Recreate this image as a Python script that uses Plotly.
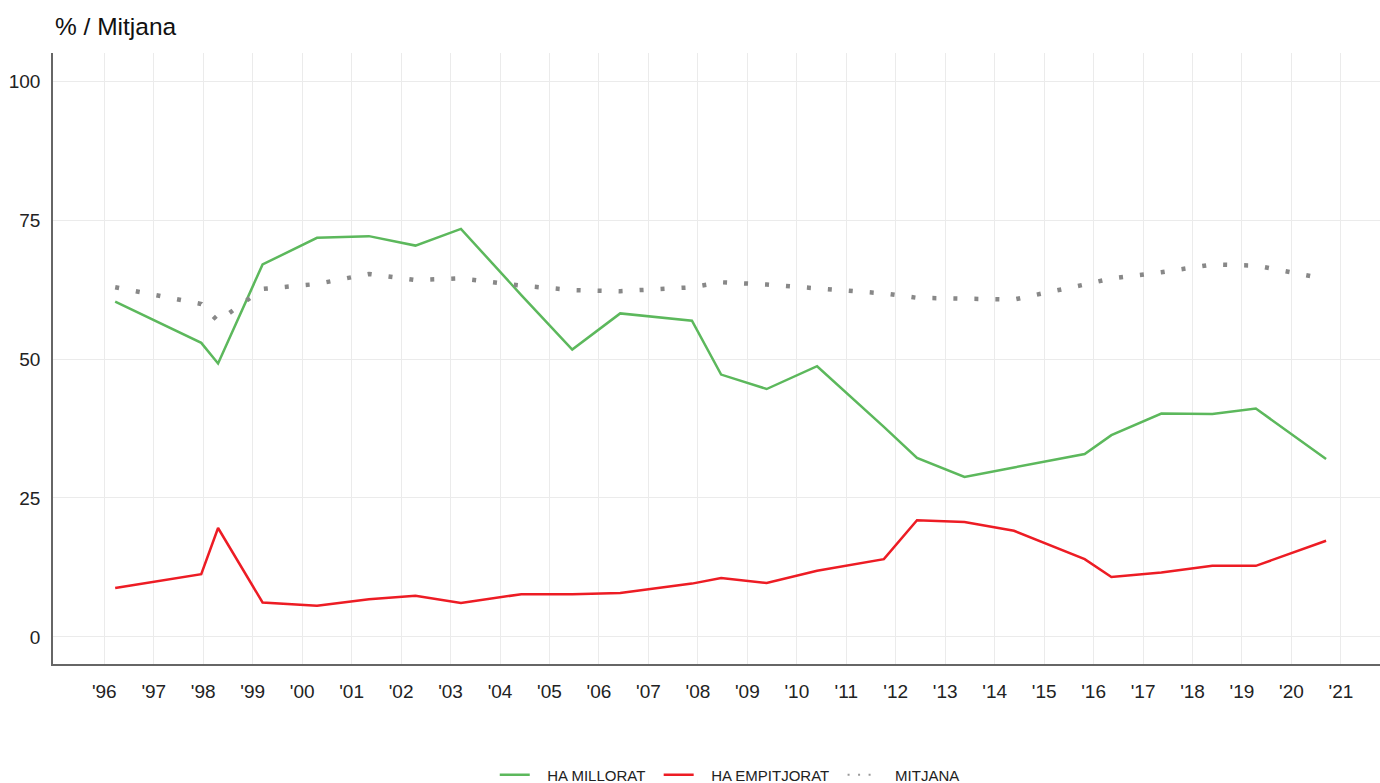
import plotly.graph_objects as go

# Survey dates (decimal years) and percentages for each series
dates = [1996.22, 1997.96, 1998.30, 1999.20, 2000.30, 2001.35, 2002.29, 2003.21,
         2004.43, 2005.46, 2006.43, 2007.88, 2008.47, 2009.39, 2010.41, 2011.76,
         2012.43, 2013.39, 2014.39, 2015.82, 2016.36, 2017.37, 2018.40, 2019.28,
         2020.70]

ha_millorat = [60.3, 52.9, 49.2, 67.0, 71.8, 72.1, 70.4, 73.4,
               61.5, 51.7, 58.2, 56.9, 47.2, 44.6, 48.7, 37.8,
               32.2, 28.8, 30.5, 32.9, 36.3, 40.2, 40.1, 41.1,
               32.0]

ha_empitjorat = [8.8, 11.3, 19.6, 6.2, 5.6, 6.8, 7.4, 6.1,
                 7.7, 7.7, 7.9, 9.6, 10.6, 9.7, 11.9, 14.0,
                 21.0, 20.7, 19.1, 14.0, 10.8, 11.6, 12.8, 12.8,
                 17.3]

mitjana = [62.9, 59.9, 56.8, 62.6, 63.5, 65.3, 64.2, 64.5,
           63.2, 62.4, 62.2, 62.9, 63.8, 63.4, 62.7, 61.8,
           61.0, 60.9, 60.7, 63.4, 64.5, 65.6, 67.0, 66.8,
           64.4]

series_names = ["HA MILLORAT", "HA EMPITJORAT", "MITJANA"]

tick_years = list(range(1996, 2022))
tick_labels = ["'" + str(y)[2:] for y in tick_years]

y_ticks = [0, 25, 50, 75, 100]

# Non-breaking spaces widen the gap between legend symbol and label
PAD_L = "\u00a0" * 3
PAD_R = "\u00a0" * 2


def legend_label(name):
    return PAD_L + name + PAD_R


fig = go.Figure()
fig.add_trace(go.Scatter(
    x=dates, y=ha_millorat, mode="lines", name=legend_label(series_names[0]),
    line=dict(color="#5cb85c", width=2.5),
))
fig.add_trace(go.Scatter(
    x=dates, y=ha_empitjorat, mode="lines", name=legend_label(series_names[1]),
    line=dict(color="#ed1c24", width=2.5),
))
fig.add_trace(go.Scatter(
    x=dates, y=mitjana, mode="lines", name=series_names[2],
    legendgroup="mitjana", showlegend=False,
    line=dict(color="#888888", width=4.5, dash="4px,17px"),
))
# Legend entry for the average, drawn with finer dots than the plotted line
fig.add_trace(go.Scatter(
    x=[None], y=[None], mode="lines", name=legend_label(series_names[2]),
    legendgroup="mitjana", hoverinfo="skip",
    line=dict(color="#999999", width=2.2, dash="2px,8.5px"),
))

fig.update_layout(
    width=1380, height=783,
    margin=dict(l=53, r=0, t=53, b=119, autoexpand=False),
    paper_bgcolor="white", plot_bgcolor="white",
    font=dict(family="Liberation Sans, Arial, sans-serif", color="#222222"),
    title=dict(text="% / Mitjana", x=55 / 1380, xref="container", xanchor="left",
               y=1 - 26 / 783, yref="container", yanchor="middle",
               font=dict(size=24.5, color="#111111")),
    showlegend=True,
    legend=dict(orientation="h", x=0.513, xanchor="center",
                y=1 - 775 / 783, yref="container", yanchor="middle",
                font=dict(size=15, color="#222222")),
    hovermode="x unified",
)

fig.update_xaxes(
    range=[1994.963, 2021.79],
    tickvals=tick_years, ticktext=tick_labels,
    showgrid=True, gridcolor="#ebebeb", gridwidth=1,
    showline=True, linecolor="#666666", linewidth=1.5,
    ticks="", tickfont=dict(size=19, color="#222222"),
    ticklabelstandoff=9, zeroline=False,
)
fig.update_yaxes(
    range=[-4.86, 105.04],
    tickvals=y_ticks,
    showgrid=True, gridcolor="#ebebeb", gridwidth=1,
    showline=True, linecolor="#666666", linewidth=1.5,
    ticks="", tickfont=dict(size=19, color="#222222"),
    ticklabelstandoff=7, zeroline=False,
)

fig.write_html("out.html")
